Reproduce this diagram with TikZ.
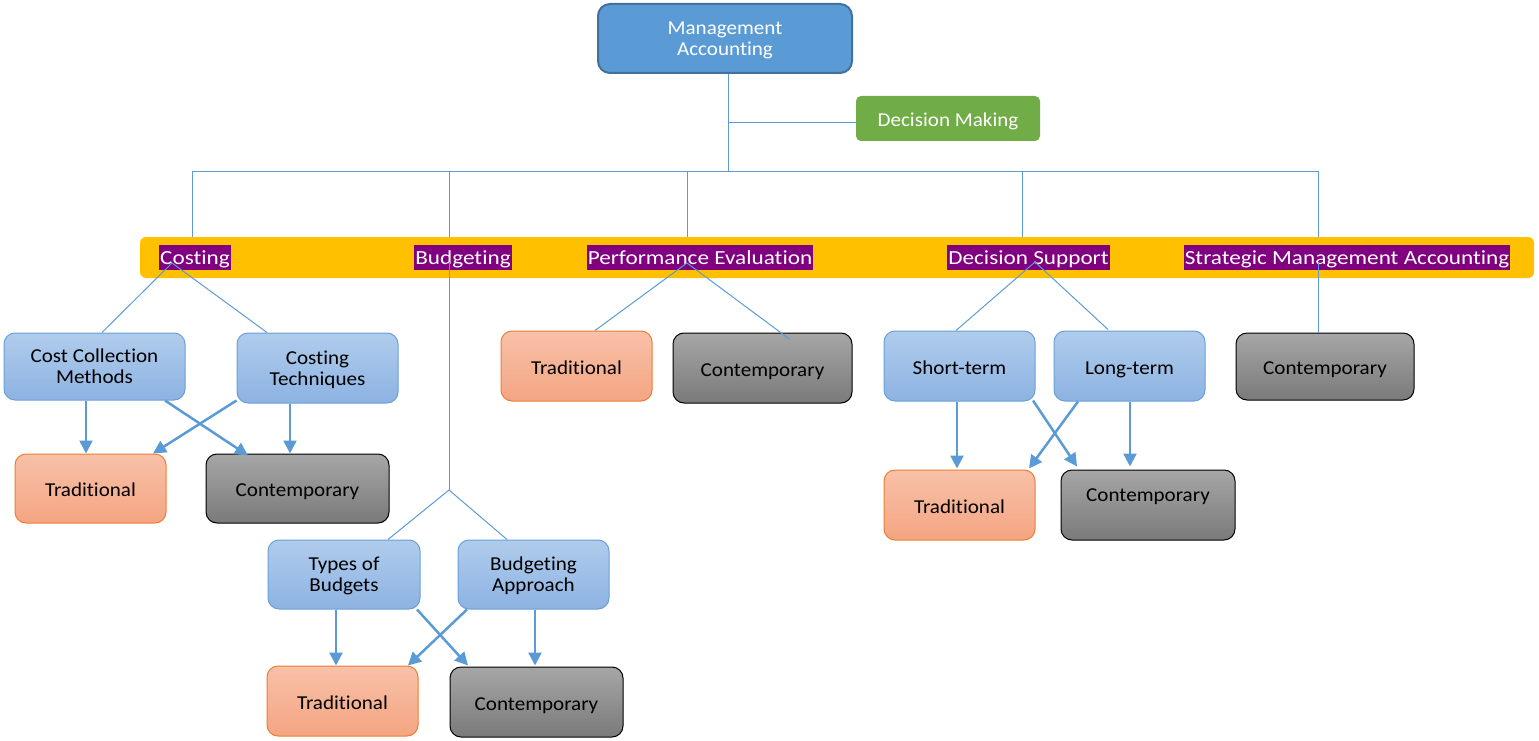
\documentclass[tikz,border=0pt]{standalone}
\usepackage{fontspec}
\setmainfont{Carlito}[FakeStretch=1.07,Ligatures=NoCommon]
\newfontfamily\barfont{Carlito}[FakeStretch=1.16,Ligatures=NoCommon]
\usetikzlibrary{arrows.meta,calc}
\definecolor{maFill}{HTML}{5B9BD5}
\definecolor{maDraw}{HTML}{41719C}
\definecolor{dmFill}{HTML}{70AD47}
\definecolor{barFill}{HTML}{FFC000}
\definecolor{labFill}{HTML}{800080}
\definecolor{lineC}{HTML}{5B9BD5}
\definecolor{blueTop}{HTML}{B0CCEC}
\definecolor{blueBot}{HTML}{8DB3E2}
\definecolor{blueDraw}{HTML}{6A9FD8}
\definecolor{orTop}{HTML}{F8C1A9}
\definecolor{orBot}{HTML}{F4A582}
\definecolor{orDraw}{HTML}{ED7D31}
\definecolor{grTop}{HTML}{A6A6A6}
\definecolor{grBot}{HTML}{7A7A7A}
\tikzset{
  txt/.style={font=\fontsize{19.7}{21}\selectfont, align=center, inner sep=2pt},
  one/.style={text height=16pt, text depth=0pt},
  two/.style={text depth=-2pt},
  bbox/.style={txt, rounded corners=11pt, draw, line width=1pt},
  bluebox/.style={bbox, top color=blueTop, bottom color=blueBot, draw=blueDraw, text=black},
  orbox/.style={bbox, top color=orTop, bottom color=orBot, draw=orDraw, text=black},
  grbox/.style={bbox, top color=grTop, bottom color=grBot, draw=black, text=black},
  lab/.style={fill=labFill, text=white, font=\barfont\fontsize{20}{22}\selectfont, inner xsep=1pt, inner ysep=0pt, minimum height=25pt, text height=15pt, text depth=2pt},
  conn/.style={draw=lineC, line width=1pt},
  arr/.style={draw=lineC, line width=2.5pt, -{Triangle[length=13pt,width=13pt]}},
}
\begin{document}
\begin{tikzpicture}[x=1pt,y=-1pt]
\useasboundingbox (0,0) rectangle (1539,741);
% top
\node[txt, two, rounded corners=12pt, fill=maFill, draw=maDraw, line width=2pt, text=white, minimum width=254pt, minimum height=69pt] (ma) at (725,38.5) {Management\\Accounting};
\node[txt, one, rounded corners=5pt, fill=dmFill, text=white, minimum width=184pt, minimum height=45pt] (dm) at (948,118.5) {Decision Making};
% bar
\node[rounded corners=6pt, fill=barFill, minimum width=1394pt, minimum height=41pt, inner sep=0pt] (bar) at (837,257.5) {};
\node[lab] (lcost) at (195,257.5) {Costing};
\node[lab] (lbud) at (463,257.5) {Budgeting};
\node[lab] (lpe) at (700,257.5) {Performance Evaluation};
\node[lab] (lds) at (1028.5,257.5) {Decision Support};
\node[lab] (lsma) at (1347,257.5) {Strategic Management Accounting};
% costing
\node[bluebox, two, minimum width=181pt, minimum height=67pt] (ccm) at (94.5,366.5) {Cost Collection\\Methods};
\node[bluebox, two, minimum width=161pt, minimum height=70pt] (ct) at (317.5,368) {Costing\\Techniques};
\node[orbox, one, minimum width=151pt, minimum height=69pt] (tc) at (90.5,488.5) {Traditional};
\node[grbox, one, minimum width=183pt, minimum height=69pt] (cc) at (297.5,488.5) {Contemporary};
% performance
\node[orbox, one, minimum width=151pt, minimum height=70pt] (pet) at (576.5,366) {Traditional};
\node[grbox, one, minimum width=179pt, minimum height=70pt] (pec) at (762.5,368) {Contemporary};
% decision support
\node[bluebox, one, minimum width=151pt, minimum height=70pt] (st) at (959.5,366) {Short-term};
\node[bluebox, one, minimum width=151pt, minimum height=70pt] (lt) at (1129.5,366) {Long-term};
\node[orbox, one, minimum width=151pt, minimum height=70pt] (dst) at (959.5,505) {Traditional};
\node[grbox, minimum width=174pt, minimum height=70pt, text height=14pt, text depth=22pt] (dsc) at (1148,505) {Contemporary};
% sma
\node[grbox, one, minimum width=178pt, minimum height=67pt] (smac) at (1325,366.5) {Contemporary};
% budgeting
\node[bluebox, two, minimum width=152pt, minimum height=69pt] (tb) at (344,574.5) {Types of\\Budgets};
\node[bluebox, two, minimum width=151pt, minimum height=69pt] (ba) at (533.5,574.5) {Budgeting\\Approach};
\node[orbox, one, minimum width=151pt, minimum height=70pt] (bt) at (342.5,701) {Traditional};
\node[grbox, one, minimum width=173pt, minimum height=70pt] (bc) at (536.5,702) {Contemporary};
% junctions
\coordinate (hub) at (728,171);
\coordinate (dmj) at (728,123);
\coordinate (hl) at (192,171);
\coordinate (hr) at (1318,171);
\coordinate (cj) at (172,263);
\coordinate (bj0) at (449,262);
\coordinate (bj) at (449,490);
\coordinate (pj) at (687,263);
\coordinate (dj) at (1035,262);
\coordinate (sj) at (1318,263);
% thin connectors
\draw[conn] (ma.south -| hub) -- (hub);
\draw[conn] (dmj) -- (dm.west |- dmj);
\draw[conn] (hl) -- (hr);
\foreach \xx in {192,449,687,1022,1318} \draw[conn] (\xx,171) -- (bar.north -| \xx,0);
\draw[conn] (cj) -- ([xshift=7.5pt]ccm.north);
\draw[conn] (cj) -- ([xshift=-50.5pt]ct.north);
\draw[conn] (bj0) -- (bj);
\draw[conn] (bj) -- ([xshift=44pt]tb.north);
\draw[conn] (bj) -- ([xshift=-26.5pt]ba.north);
\draw[conn] (pj) -- ([xshift=18.5pt]pet.north);
\draw[conn] (pj) -- ([xshift=27.5pt,yshift=-7pt]pec.north);
\draw[conn] (dj) -- ([xshift=-3.5pt]st.north);
\draw[conn] (dj) -- ([xshift=-21.5pt,yshift=1pt]lt.north);
\draw[conn] (sj) -- ([xshift=-7pt]smac.north);
% arrows costing
\draw[arr] ([xshift=-8.5pt]ccm.south) -- ([xshift=-4.5pt]tc.north);
\draw[arr] ([xshift=70.5pt]ccm.south) -- ([xshift=-49.5pt,yshift=-2pt]cc.north);
\draw[arr] ([yshift=3pt]ct.south west) -- ([xshift=62.5pt]tc.north);
\draw[arr] ([xshift=-27.5pt]ct.south) -- ([xshift=-7.5pt]cc.north);
% arrows decision support
\draw[arr] ([xshift=-2.5pt]st.south) -- ([xshift=-2.5pt,yshift=1pt]dst.north);
\draw[arr] ([xshift=73.5pt,yshift=1pt]st.south) -- ([xshift=-71pt,yshift=3pt]dsc.north);
\draw[arr] ([xshift=-51.5pt]lt.south) -- ([xshift=69.5pt,yshift=1pt]dst.north);
\draw[arr] ([xshift=0.5pt]lt.south) -- ([xshift=-18pt,yshift=3pt]dsc.north);
% arrows budgeting
\draw[arr] ([xshift=-8pt]tb.south) -- ([xshift=-6.5pt]bt.north);
\draw[arr] ([xshift=73pt]tb.south) -- ([xshift=-68.5pt,yshift=1pt]bc.north);
\draw[arr] ([xshift=-66.5pt]ba.south) -- ([xshift=65.5pt]bt.north);
\draw[arr] ([xshift=1.5pt]ba.south) -- ([xshift=-1.5pt,yshift=1pt]bc.north);
\end{tikzpicture}
\end{document}
